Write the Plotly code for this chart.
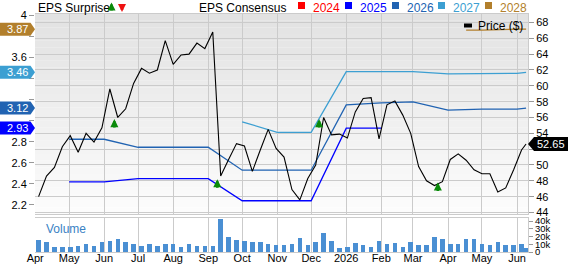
import plotly.graph_objects as go
import pandas as pd

# ---------------- data ----------------
price_dates = list(pd.date_range("2025-04-04", periods=62, freq="7D").strftime("%Y-%m-%d")) + ["2026-06-09"]
price = [46.0, 48.6, 49.7, 52.3, 53.7, 51.6, 54.0, 52.9, 54.7, 59.6,
         56.0, 57.1, 60.3, 62.2, 61.6, 62.0, 65.7, 62.7, 63.9, 64.0,
         65.4, 64.7, 66.8, 48.6, 50.7, 52.7, 52.4, 49.2, 51.9, 54.5,
         52.1, 51.0, 46.9, 45.6, 48.3, 50.0, 56.0, 53.8, 53.9, 53.4,
         56.7, 58.4, 58.5, 53.3, 57.6, 58.1, 56.3, 54.0, 49.8, 48.0,
         47.4, 47.9, 50.7, 51.4, 50.6, 49.4, 48.9, 48.9, 46.6, 47.1,
         49.4, 51.9, 52.65]
volume_k = [15.6, 12.8, 6.8, 6.8, 6.0, 8.0, 10.0, 7.6, 12.8, 13.6,
            16.8, 12.8, 10.0, 7.6, 10.0, 8.0, 10.8, 10.0, 6.8, 10.8,
            7.6, 7.6, 7.6, 43.0, 18.8, 15.6, 14.0, 12.8, 12.8, 10.8,
            8.8, 8.8, 10.8, 17.6, 8.8, 12.8, 24.0, 14.8, 4.8, 6.0,
            11.6, 8.8, 6.8, 13.6, 10.8, 11.6, 6.8, 12.8, 8.8, 9.6,
            19.6, 16.8, 10.8, 10.8, 16.8, 16.8, 10.8, 9.6, 12.8, 9.6,
            8.8, 10.0, 4.8]

eps_2025_dates = ["2025-05-01", "2025-06-01", "2025-07-01", "2025-08-01", "2025-09-01",
                  "2025-10-01", "2025-11-01", "2025-12-01", "2026-01-01", "2026-02-01"]
eps_2025 = [2.42, 2.42, 2.45, 2.45, 2.45, 2.24, 2.24, 2.24, 2.93, 2.93]

eps_2026_dates = ["2025-05-01", "2025-06-01", "2025-07-01", "2025-08-01", "2025-09-01",
                  "2025-10-01", "2025-11-01", "2025-12-01", "2026-01-01", "2026-02-01",
                  "2026-03-01", "2026-04-01", "2026-05-01", "2026-06-01", "2026-06-09"]
eps_2026 = [2.824, 2.824, 2.748, 2.748, 2.748, 2.53, 2.53, 2.53, 3.15, 3.17,
            3.18, 3.10, 3.11, 3.11, 3.12]

eps_2027_dates = ["2025-10-01", "2025-11-01", "2025-12-01", "2026-01-01", "2026-02-01",
                  "2026-03-01", "2026-04-01", "2026-05-01", "2026-06-01", "2026-06-09"]
eps_2027 = [2.99, 2.89, 2.89, 3.466, 3.466, 3.466, 3.445, 3.45, 3.45, 3.46]

eps_2028_dates = ["2026-04-17", "2026-05-01", "2026-06-01", "2026-06-09"]
eps_2028 = [3.86, 3.86, 3.87, 3.87]

surprise_dates = ["2025-06-10", "2025-09-09", "2025-12-08", "2026-03-23"]
surprise_price = [55.8, 48.2, 55.8, 47.8]

month_ticks = ["2025-04-01", "2025-05-01", "2025-06-01", "2025-07-01", "2025-08-01",
               "2025-09-01", "2025-10-01", "2025-11-01", "2025-12-01", "2026-01-01",
               "2026-02-01", "2026-03-01", "2026-04-01", "2026-05-01", "2026-06-01"]
month_labels = ["Apr", "May", "Jun", "Jul", "Aug", "Sep", "Oct", "Nov", "Dec", "2026",
                "Feb", "Mar", "Apr", "May", "Jun"]

# labels hidden behind the value tags are left blank
eps_ticks = [2.2, 2.4, 2.6, 2.8, 3.0, 3.2, 3.4, 3.6, 3.8, 4.0]
eps_tick_text = ["2.2", "2.4", "2.6", "2.8", "", "", "", "3.6", "", "4"]
price_ticks = [44, 46, 48, 50, 52, 54, 56, 58, 60, 62, 64, 66, 68]
price_tick_text = ["44", "46", "48", "50", "", "54", "56", "58", "60", "62", "64", "66", "68"]
vol_ticks = [0, 10, 20, 30, 40]
vol_tick_text = ["0", "10k", "20k", "30k", "40k"]

legend_years = ["2024", "2025", "2026", "2027", "2028"]

# ---------------- style ----------------
FONT = "Liberation Sans, Arial, sans-serif"
C = {"2024": "#ff0000", "2025": "#0000ff", "2026": "#2163b2", "2027": "#3c9fd2", "2028": "#b27f2c"}
GRID = "#cbcbcb"

W, H = 568, 266
ML, MR, MT, MB = 35, 40, 14, 14
PW, PH = W - ML - MR, H - MT - MB


def px_x(px):
    return (px - ML) / PW


def px_y(py):
    return (H - MB - py) / PH


fig = go.Figure()

series = [("2025", eps_2025_dates, eps_2025), ("2026", eps_2026_dates, eps_2026),
          ("2027", eps_2027_dates, eps_2027), ("2028", eps_2028_dates, eps_2028)]
for name, d, v in series:
    fig.add_trace(go.Scatter(x=d, y=v, mode="lines", line=dict(color=C[name], width=1.3),
                             xaxis="x", yaxis="y", showlegend=False, hoverinfo="skip"))

fig.add_trace(go.Scatter(x=price_dates, y=price, mode="lines", line=dict(color="black", width=1.1),
                         xaxis="x", yaxis="y2", showlegend=False, hoverinfo="skip"))

fig.add_trace(go.Bar(x=price_dates, y=volume_k, marker=dict(color="#4a8fd3", line_width=0),
                     width=4 * 86400000, xaxis="x2", yaxis="y3", showlegend=False, hoverinfo="skip"))

x_range = ["2025-03-31 20:00", "2026-06-10 16:48"]
main_bottom = 214
vol_top = 218
main_dom = [px_y(main_bottom), 1]
vol_dom = [0, px_y(vol_top)]

tickfont = dict(family=FONT, size=11, color="black")

shapes = []
# gradient background of main panel
nb = 30
for i in range(nb):
    t = i / (nb - 1)
    g = int(round(0xe2 + (0xfc - 0xe2) * t))
    shapes.append(dict(type="rect", xref="paper", yref="y domain", x0=0, x1=1,
                       y0=1 - (i + 1) / nb, y1=1 - i / nb, fillcolor=f"rgb({g},{g},{g})",
                       line=dict(width=0), layer="below"))

annotations = []

# EPS tags on the left
for name, d, v in series[::-1]:
    val = v[-1]
    shapes.append(dict(type="path", xref="paper", yref="y", xsizemode="pixel", ysizemode="pixel",
                       xanchor=0, yanchor=val,
                       path="M-35,-6.5 L-4.5,-6.5 L0,0 L-4.5,6.5 L-35,6.5 Z",
                       fillcolor=C[name], line=dict(width=0), layer="above"))
    annotations.append(dict(x=0, xref="paper", y=val, yref="y", xshift=-18, text=f"{val:.2f}",
                            showarrow=False, xanchor="center", yanchor="middle",
                            font=dict(family=FONT, size=11, color="white")))

# price tag on the right
last_price = price[-1]
shapes.append(dict(type="path", xref="paper", yref="y2", xsizemode="pixel", ysizemode="pixel",
                   xanchor=1, yanchor=last_price,
                   path="M0,0 L6,-7 L40,-7 L40,7 L6,7 Z", fillcolor="black",
                   line=dict(width=0), layer="above"))
annotations.append(dict(x=1, xref="paper", y=last_price, yref="y2", xshift=23, text=f"{last_price:.2f}",
                        showarrow=False, xanchor="center", yanchor="middle",
                        font=dict(family=FONT, size=11, color="white")))

# surprise arrows
ARW = dict(text="", showarrow=True, arrowhead=2, arrowsize=0.62, arrowwidth=2.6, standoff=0)
for d, p in zip(surprise_dates, surprise_price):
    annotations.append(dict(x=d, y=p, xref="x", yref="y2", ax=0, ay=10, arrowcolor="#0a8a0a", **ARW))

# header
hy = px_y(7.5)
annotations.append(dict(x=px_x(36), y=hy, xref="paper", yref="paper", text="EPS Surprise",
                        showarrow=False, xanchor="left", yanchor="middle",
                        font=dict(family=FONT, size=12, color="black")))
annotations.append(dict(x=px_x(111.5), y=px_y(2.5), xref="paper", yref="paper",
                        ax=0, ay=9.5, arrowcolor="#0a8a0a", **ARW))
annotations.append(dict(x=px_x(122), y=px_y(12), xref="paper", yref="paper",
                        ax=0, ay=-9.5, arrowcolor="#ee1111", **ARW))
annotations.append(dict(x=px_x(197), y=hy, xref="paper", yref="paper", text="EPS Consensus",
                        showarrow=False, xanchor="left", yanchor="middle",
                        font=dict(family=FONT, size=12, color="black")))
sq_x = [298, 345, 392, 438, 485]
for yr, sx in zip(legend_years, sq_x):
    shapes.append(dict(type="rect", xref="paper", yref="paper", x0=px_x(sx), x1=px_x(sx + 7),
                       y0=px_y(9), y1=px_y(2), fillcolor=C[yr], line=dict(width=0)))
    annotations.append(dict(x=px_x(sx + 13), y=px_y(7.5), xref="paper", yref="paper", text=yr,
                            showarrow=False, xanchor="left", yanchor="middle",
                            font=dict(family=FONT, size=12, color=C[yr])))

# Price legend
shapes.append(dict(type="rect", xref="paper", yref="paper", x0=px_x(464), x1=px_x(472),
                   y0=px_y(27.5), y1=px_y(23.5), fillcolor="black", line=dict(width=0)))
annotations.append(dict(x=px_x(476), y=px_y(25.5), xref="paper", yref="paper", text="Price ($)",
                        showarrow=False, xanchor="left", yanchor="middle",
                        font=dict(family=FONT, size=12, color="black")))
# Volume label
annotations.append(dict(x=px_x(44), y=px_y(229), xref="paper", yref="paper", text="Volume",
                        showarrow=False, xanchor="left", yanchor="middle",
                        font=dict(family=FONT, size=12, color="#3a82c4")))

common_ax = dict(automargin=False, zeroline=False)
fig.update_layout(
    template="none",
    width=W, height=H, margin=dict(l=ML, r=MR, t=MT, b=MB, pad=0), autosize=False,
    paper_bgcolor="white", plot_bgcolor="white", showlegend=False,
    font=dict(family=FONT, size=11, color="black"),
    shapes=shapes, annotations=annotations, bargap=0,
    xaxis=dict(domain=[0, 1], anchor="y", type="date", range=x_range, tickvals=month_ticks,
               showticklabels=False, ticks="", showgrid=True, gridcolor=GRID, gridwidth=1,
               showline=True, linecolor=GRID, linewidth=1, mirror=True, **common_ax),
    xaxis2=dict(domain=[0, 1], anchor="y3", type="date", range=x_range, matches="x",
                tickvals=month_ticks, ticktext=month_labels, ticks="", tickfont=tickfont,
                ticklabelstandoff=-4,
                showgrid=True, gridcolor=GRID, gridwidth=1,
                showline=True, linecolor=GRID, linewidth=1, mirror=True, **common_ax),
    yaxis=dict(domain=main_dom, anchor="x", side="left", range=[2.114, 4.014],
               tickvals=eps_ticks, ticktext=eps_tick_text, ticks="outside", ticklen=5,
               tickcolor="#999999", tickfont=tickfont, showgrid=False,
               showline=False, **common_ax),
    yaxis2=dict(overlaying="y", anchor="x", side="right", range=[43.81, 69.07],
                tickvals=price_ticks, ticktext=price_tick_text, ticks="outside", ticklen=5,
                tickcolor="#999999", tickfont=tickfont, showgrid=True, gridcolor=GRID, gridwidth=1,
                showline=True, linecolor=GRID, **common_ax),
    yaxis3=dict(domain=vol_dom, anchor="x2", side="right", range=[0, 43.9],
                tickvals=vol_ticks, ticktext=vol_tick_text, ticks="outside", ticklen=4,
                tickcolor="#999999", tickfont=dict(family=FONT, size=9.5, color="black"),
                showgrid=False, showline=True, linecolor=GRID, **common_ax),
)

fig.write_html("out.html")
